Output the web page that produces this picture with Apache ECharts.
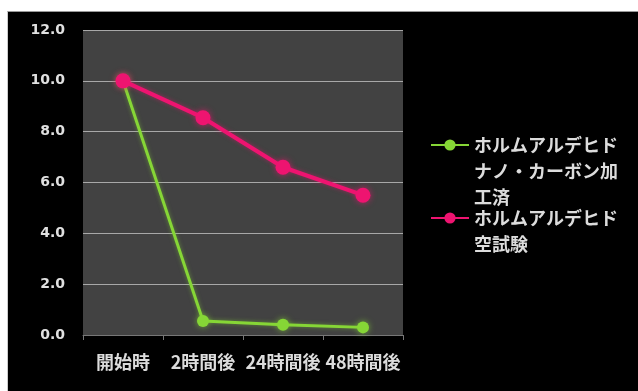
<!DOCTYPE html>
<html><head><meta charset="utf-8">
<script src="https://cdn.jsdelivr.net/npm/echarts@6/dist/echarts.min.js"></script>
<style>
html,body{margin:0;padding:0;background:#fff;width:638px;height:391px;overflow:hidden;}
#bg{position:absolute;left:7px;top:11px;right:0;bottom:0;background:#000;border-top:1px solid #999;border-left:1px solid #ccc;}
#c{position:absolute;left:0;top:0;width:638px;height:391px;}
</style></head>
<body><div id="bg"></div><div id="c"></div>
<script>
const categories = ['開始時', '2時間後', '24時間後', '48時間後'];
const seriesNames = ['ホルムアルデヒドナノ・カーボン加工済', 'ホルムアルデヒド空試験'];
const legendLines = [['ホルムアルデヒド', 'ナノ・カーボン加', '工済'], ['ホルムアルデヒド', '空試験']];
const nanoValues = [10.0, 0.55, 0.4, 0.3];
const blankValues = [10.0, 8.55, 6.6, 5.5];
const yTicks = [0, 2, 4, 6, 8, 10, 12];

const green = '#86d636';
const pink = '#ee1470';
const lh = 26;
const jp = '"Noto Sans CJK JP", sans-serif';

function legendFor(idx, bottomPx) {
  const n = legendLines[idx].length;
  // leading blank lines so the icon (centred on the block) sits on the first real line
  const pad = new Array(n - 1).fill('').join('\n') + (n > 1 ? '\n' : '');
  return {
    left: 430, bottom: bottomPx, padding: 0, orient: 'vertical',
    itemWidth: 38, itemHeight: 14, itemGap: 0,
    data: [seriesNames[idx]],
    formatter: () => pad + legendLines[idx].join('\n'),
    textStyle: { color: '#dcdcdc', fontSize: 18, fontWeight: 'bold', fontFamily: jp, lineHeight: lh }
  };
}

const chart = echarts.init(document.getElementById('c'));
chart.setOption({
  backgroundColor: 'transparent',
  animation: false,
  grid: { left: 83, right: 235, top: 30, bottom: 56, show: true, backgroundColor: '#424242', borderWidth: 0 },
  legend: [
    legendFor(0, 391 - (145 + 65)),
    legendFor(1, 391 - (218 + 39))
  ],
  xAxis: {
    type: 'category', data: categories, boundaryGap: true,
    axisLine: { lineStyle: { color: '#777', width: 1 } },
    axisTick: { show: true, length: 5, lineStyle: { color: '#777' } },
    axisLabel: { interval: 0, color: '#dcdcdc', fontSize: 18, fontWeight: 'bold', fontFamily: jp, margin: 18 }
  },
  yAxis: {
    type: 'value', min: 0, max: 12, interval: 2,
    axisLine: { show: false }, axisTick: { show: false },
    splitLine: { lineStyle: { color: '#a8a8a8', width: 1 } },
    axisLabel: { color: '#e0e0e0', fontSize: 14, fontWeight: 'bold', fontFamily: 'DejaVu Sans', margin: 18,
      formatter: v => yTicks.includes(v) ? v.toFixed(1) : '' }
  },
  series: [
    { name: seriesNames[0], type: 'line', data: nanoValues, symbol: 'circle', symbolSize: 12,
      itemStyle: { color: green, shadowColor: 'rgba(134,214,54,0.7)', shadowBlur: 6 },
      lineStyle: { color: green, width: 3, shadowColor: 'rgba(134,214,54,0.5)', shadowBlur: 4 }, z: 2 },
    { name: seriesNames[1], type: 'line', data: blankValues, symbol: 'circle', symbolSize: 15,
      itemStyle: { color: pink, shadowColor: 'rgba(238,20,112,0.7)', shadowBlur: 6 },
      lineStyle: { color: pink, width: 4, shadowColor: 'rgba(238,20,112,0.5)', shadowBlur: 4 }, z: 3 }
  ]
});
</script></body></html>
